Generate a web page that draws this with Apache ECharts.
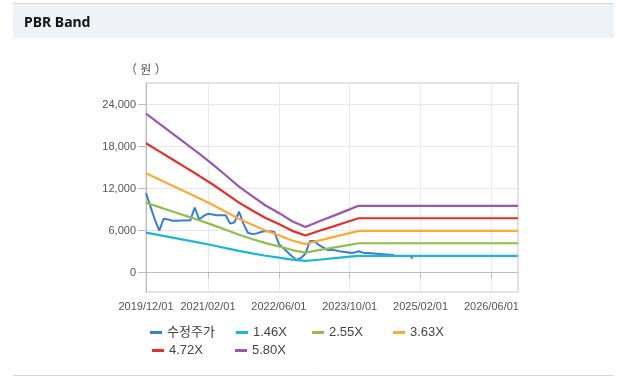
<!DOCTYPE html>
<html><head><meta charset="utf-8">
<script src="https://cdn.jsdelivr.net/npm/echarts@6/dist/echarts.min.js"></script>
<style>html,body{margin:0;padding:0;background:#fff}#c{width:622px;height:381px}</style>
</head><body><div id="c"></div>
<script>
// ---- Data ----
const firstMonth = [2019, 12];
const monthCount = 85; // 2019/12 .. 2026/12
const xTickLabels = ['2019/12/01','2021/02/01','2022/06/01','2023/10/01','2025/02/01','2026/06/01'];
const yTickValues = [0, 6000, 12000, 18000, 24000];
const seriesNames = ['수정주가','1.46X','2.55X','3.63X','4.72X','5.80X'];

const bandDates = ['2019/12/01','2020/03/01','2020/06/01','2020/09/01','2020/12/01','2021/03/01','2021/06/01','2021/09/01','2021/12/01','2022/03/01','2022/06/01','2022/09/01','2022/12/01','2023/03/01','2023/06/01','2023/09/01','2023/12/01','2026/12/01'];
const band146 = [5716,5357,4998,4638,4278,3904,3501,3095,2748,2413,2146,1845,1680,1840,2022,2212,2402,2402];
const band255 = [9983,9356,8729,8101,7472,6819,6115,5406,4799,4215,3749,3223,2864,3213,3532,3863,4195,4195];
const band363 = [14211,13318,12425,11533,10636,9707,8705,7696,6832,6000,5336,4588,4076,4574,5028,5499,5971,5971];
const band472 = [18479,17318,16157,14995,13830,12621,11319,10006,8883,7802,6938,5966,5301,5947,6537,7151,7764,7764];
const band580 = [22707,21280,19853,18427,16994,15509,13908,12296,10916,9587,8526,7331,6513,7308,8033,8787,9541,9541];

// monthly adjusted price from 2019/12/01 to 2024/08/01
const priceValues = [11371,9465,7560,6000,7700,7600,7400,7400,7450,7450,7470,9300,7600,8100,8400,8300,8200,8200,8200,7000,7200,8700,7000,5700,5500,5600,5800,5950,5900,5800,4100,3500,2900,2300,1800,2100,2700,4500,4500,3950,3600,3200,3250,3150,3000,2950,2850,2850,3050,2850,2800,2750,2700,2650,2600,2550,2500];
const priceDot = ['2024/12/01', 2150];

const colors = ['#3a7dd6','#1cb8d2','#8fbf4c','#fbaa36','#e0302a','#9b56b2'];

// ---- Build ----
const categories = [];
for (let i = 0; i < monthCount; i++) {
  const t = (firstMonth[1] - 1) + i;
  const y = firstMonth[0] + Math.floor(t / 12);
  const m = t % 12 + 1;
  categories.push(y + '/' + String(m).padStart(2,'0') + '/01');
}
const labelIdx = new Set(xTickLabels.map(d => categories.indexOf(d)));
const showAt = (i) => labelIdx.has(i);
const pairs = (dates, vals) => dates.map((d, i) => [d, vals[i]]);

const FONT = "'Liberation Sans', Arial, 'Noto Sans CJK KR', sans-serif";
const bands = [band146, band255, band363, band472, band580];

const series = [{
  name: seriesNames[0], type: 'line', data: priceValues.map((v,i)=>[categories[i], v]),
  showSymbol: false, symbol: 'none', lineStyle: {width: 2, color: colors[0]}, itemStyle:{color: colors[0]}, z: 2
}];
bands.forEach((b, k) => series.push({
  name: seriesNames[k+1], type: 'line', data: pairs(bandDates, b),
  showSymbol: false, symbol: 'none', lineStyle: {width: 2.2, color: colors[k+1]}, itemStyle:{color: colors[k+1]}, z: 3
}));
series.push({type: 'scatter', data: [priceDot], symbolSize: 3, itemStyle: {color: colors[0]}, silent: true, z: 4});

const legendPos = [[150,326],[236,326],[312,326],[393,326],[152,344],[235,344]];
const legends = seriesNames.map((n, i) => ({
  data: [n], left: legendPos[i][0], top: legendPos[i][1], icon: 'rect', itemWidth: 12, itemHeight: 3,
  itemGap: 0, padding: 0, selectedMode: false,
  textStyle: {fontFamily: FONT, fontSize: 13, color: '#444'}
}));

const chart = echarts.init(document.getElementById('c'), null, {renderer: 'canvas'});
chart.setOption({
  animation: false,
  backgroundColor: '#ffffff',
  color: colors,
  graphic: [
    {type:'rect', shape:{x:13, y:3, width:601, height:35}, style:{fill:'#eff2f7'}, z:-10},
    {type:'line', shape:{x1:13, y1:3.5, x2:614, y2:3.5}, style:{stroke:'#d8d8d8', lineWidth:1}, z:-9},
    {type:'line', shape:{x1:13, y1:375.5, x2:614, y2:375.5}, style:{stroke:'#d8d8d8', lineWidth:1}, z:-9},
    {type:'text', left: 125, top: 65, style:{text:'（ 원 ）', font: "12px " + FONT, fill:'#555'}}
  ],
  title: {text: 'PBR Band', left: 24, top: 16, padding: 0,
    textStyle: {fontFamily: "'Noto Sans', " + FONT, fontSize: 14, fontWeight: 'bold', color: '#111'}},
  legend: legends,
  grid: {left: 146, top: 83, right: 104, bottom: 89, show: true, borderColor: '#c8c8c8', borderWidth: 1, backgroundColor: 'transparent'},
  xAxis: {
    type: 'category', data: categories, boundaryGap: false,
    axisLine: {lineStyle: {color: '#bdbdbd'}},
    axisTick: {interval: (i) => showAt(i), length: 5, lineStyle: {color: '#bdbdbd'}},
    axisLabel: {interval: (i) => showAt(i), margin: 9, fontFamily: FONT, fontSize: 11, color: '#555'},
    splitLine: {show: true, interval: (i) => showAt(i), lineStyle: {color: '#e8e8e8'}}
  },
  yAxis: {
    type: 'value', min: -2770, max: 27090,
    axisLine: {show: true, lineStyle: {color: '#bdbdbd'}},
    axisTick: {show: true, length: 8, customValues: yTickValues, lineStyle: {color: '#bdbdbd'}},
    axisLabel: {customValues: yTickValues, margin: 10, fontFamily: FONT, fontSize: 11, color: '#555',
      formatter: (v) => v.toLocaleString('en-US')},
    splitLine: {show: true, lineStyle: {color: '#e8e8e8'}}
  },
  series: series
});
</script></body></html>
